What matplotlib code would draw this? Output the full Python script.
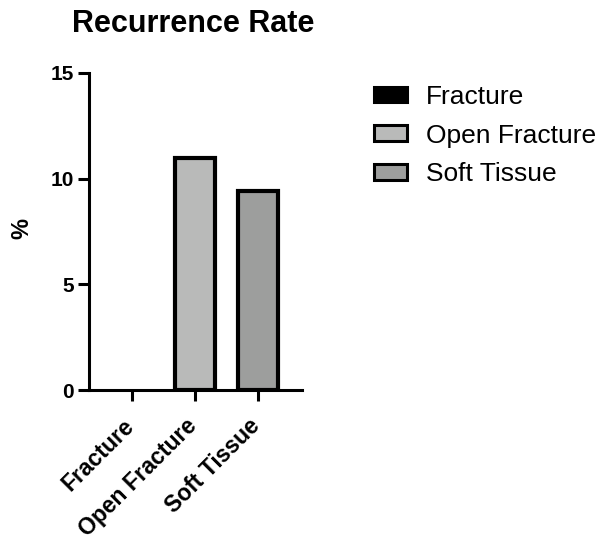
import matplotlib
matplotlib.use("Agg")
import matplotlib.pyplot as plt
from matplotlib.patches import Patch

categorias = ["Fracture", "Open Fracture", "Soft Tissue"]
valores = [0.0, 11.0, 9.4]
colores = ["#000000", "#b9bab9", "#9d9e9d"]
ticks_y = [0, 5, 10, 15]

plt.rcParams["font.family"] = ["Liberation Sans", "DejaVu Sans"]
plt.rcParams["font.weight"] = "bold"

W, H = 598, 541
fig = plt.figure(figsize=(W / 100, H / 100), dpi=100)
ax = fig.add_axes([89 / W, 1 - 390 / H, (302 - 89) / W, (390 - 73) / H])

x = list(range(len(categorias)))
# las barras de valor cero no llevan borde visible
bordes = [3 if v > 0 else 0 for v in valores]
ax.bar(x, valores, width=0.64, color=colores, edgecolor="black",
       linewidth=bordes, zorder=3)

ax.set_xlim(-0.68, 2.7)
ax.set_ylim(0, 15)
ax.set_yticks(ticks_y)
ax.set_xticks(x)
ax.set_xticklabels([])
# etiquetas del eje x a mano para poder colocarlas con precision
for i, nombre in zip(x, categorias):
    ax.annotate(nombre, xy=(i, 0), xycoords=("data", "axes fraction"),
                xytext=(-7, -17.5), textcoords="offset points",
                rotation=45, ha="right", va="top", rotation_mode="anchor",
                fontsize=16.5, fontweight="bold", annotation_clip=False)
for lbl in ax.get_yticklabels():
    lbl.set_fontsize(15)
    lbl.set_fontweight("bold")

for lado in ["top", "right"]:
    ax.spines[lado].set_visible(False)
for lado in ["left", "bottom"]:
    ax.spines[lado].set_linewidth(2.2)
    ax.spines[lado].set_zorder(4)
ax.tick_params(axis="y", width=2.2, length=8, pad=3)
ax.tick_params(axis="x", width=2.2, length=8)

ax.set_ylabel("%", fontsize=17, fontweight="bold")
ax.yaxis.set_label_coords(-0.26, 0.51)
fig.text(193 / W, 1 - 24 / H, "Recurrence Rate", ha="center", va="center",
         fontsize=22, fontweight="bold")

handles = [Patch(facecolor=c, edgecolor="black", linewidth=2.2) for c in colores]
fig.legend(handles, categorias, loc="upper left",
           bbox_to_anchor=(350 / W, 1 - 61 / H), frameon=False,
           prop={"size": 19, "weight": "normal"}, handlelength=1.25,
           handleheight=0.53, labelspacing=0.56, handletextpad=0.72)

fig.savefig("out.png", dpi=100)
